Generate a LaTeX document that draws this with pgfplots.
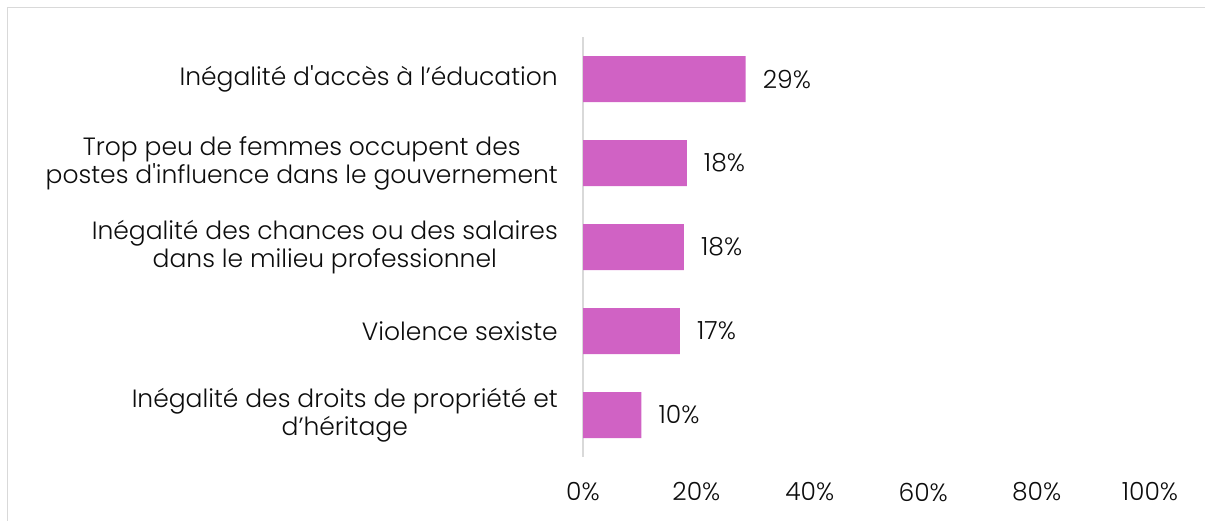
\documentclass[border=0pt]{standalone}
\usepackage{pgfplots}
\pgfplotsset{compat=1.18}
\usepackage{fontspec}
\setmainfont{Poppins}[Ligatures=TeXOff, UprightFont=* Light]
\definecolor{barc}{HTML}{D062C4}
\definecolor{framec}{HTML}{D9D9D9}
\definecolor{txt}{HTML}{0D0D0D}
\begin{document}
\begin{tikzpicture}
\useasboundingbox (0,0) rectangle (1205bp,-521bp);
\begin{scope}
\clip (0,0) rectangle (1205bp,-521bp);
\draw[framec, line width=1.8bp] (7.5bp,-540bp) -- (7.5bp,-7.5bp) -- (1220bp,-7.5bp);
\end{scope}
\begin{axis}[
  at={(583bp,-457bp)}, anchor=south west,
  scale only axis, width=567bp, height=420bp,
  xbar, bar width=46bp,
  xmin=0, xmax=100, ymin=0.5, ymax=5.5, y dir=reverse,
  axis y line*=left, axis x line*=bottom,
  x axis line style={draw=none},
  y axis line style={draw=framec, line width=1.5bp, -},
  xtick={0,20,...,100}, ytick={1,2,3,4,5},
  major tick length=0pt,
  /pgf/number format/assume math mode=true,
  font=\fontsize{25bp}{28bp}\selectfont,
  every tick label/.append style={text=txt},
  xticklabel={\pgfmathprintnumber{\tick}\%},
  xticklabel style={anchor=center, yshift=-35bp},
  yticklabels={{Inégalité d'accès à l’éducation},
    {Trop peu de femmes occupent des\\postes d'influence dans le gouvernement},
    {Inégalité des chances ou des salaires\\dans le milieu professionnel},
    {Violence sexiste},
    {Inégalité des droits de propriété et\\d’héritage}},
  yticklabel style={align=center, anchor=east, inner sep=0pt, xshift=-25bp},
  nodes near coords={\pgfmathprintnumber[fixed,precision=0]{\pgfplotspointmeta}\%},
  every node near coord/.append style={anchor=west, inner sep=0pt, xshift=17bp, text=txt},
]
\addplot[fill=barc, draw=none] coordinates {(28.7,1) (18.3,2) (17.8,3) (17.1,4) (10.3,5)};
\end{axis}
\end{tikzpicture}
\end{document}
